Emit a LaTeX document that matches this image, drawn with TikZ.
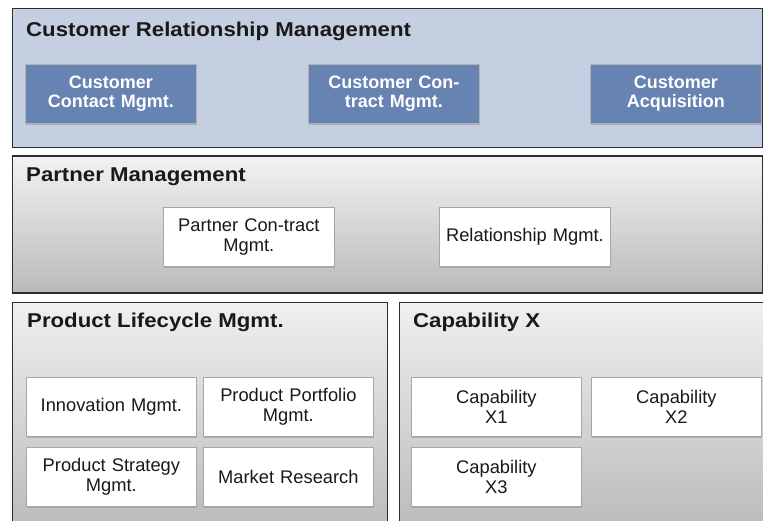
\documentclass[tikz,border=0pt]{standalone}
\usepackage{fontspec}
\setmainfont{Liberation Sans}
\usepackage{tikz}
\usetikzlibrary{positioning, shadows}
\tikzset{>=stealth}
\definecolor{crmfill}{RGB}{196,207,225}
\definecolor{crmblue}{RGB}{102,131,178}
\definecolor{framegray}{RGB}{45,45,45}
\newcommand{\widetitle}[1]{\scalebox{1.11}[1]{#1}}
\tikzset{
    panel/.style={draw=framegray, line width=1.3pt, anchor=north west, inner sep=0pt},
    greypanel/.style={panel, top color=black!5, bottom color=black!27},
    ptitle/.style={anchor=base west, inner sep=0pt, text=black!90, font=\bfseries\fontsize{20}{22}\selectfont},
    capbox/.style={anchor=north west, minimum width=171pt, minimum height=59pt, text width=165pt, align=center, inner sep=0pt,
        fill=white, draw=black!35, line width=0.8pt, text=black!90, font=\fontsize{18.3}{19.3}\selectfont,
        drop shadow={shadow xshift=1pt, shadow yshift=-2pt, opacity=.4}},
    crmbox/.style={capbox, fill=crmblue, draw=black!30, text=white, font=\bfseries\fontsize{18}{19.3}\selectfont}
}
\begin{document}
\begin{tikzpicture}[x=1pt, y=-1pt]
    \useasboundingbox (0,0) rectangle (763,521);
    % panels
    \node[panel, fill=crmfill, minimum width=750pt, minimum height=139pt] (crm) at (12,8) {};
    \node[greypanel, minimum width=750pt, minimum height=137pt] (pm) at (12,155.5) {};
    \node[greypanel, top color=black!6, bottom color=black!30, minimum width=375pt, minimum height=260pt] (plm) at (12,302) {};
    \node[greypanel, top color=black!6, bottom color=black!30, minimum width=364pt, minimum height=260pt] (capx) at (399,302) {};

    \node[ptitle] (crmtitle) at (26,37) {\widetitle{Customer Relationship Management}};
    \node[ptitle] (pmtitle) at (26,182) {\widetitle{Partner Management}};
    \node[ptitle] (plmtitle) at (27,327) {\widetitle{Product Lifecycle Mgmt.}};
    \node[ptitle] (capxtitle) at (413,327) {\widetitle{Capability X}};

    \foreach \x/\n/\t in {25/ccm/{Customer\\Contact Mgmt.}, 308/cctm/{Customer Con-\\tract Mgmt.}, 590/cacq/{Customer\\Acquisition}}
    {
        \node[crmbox] (\n) at (\x,64) {\t};
    }

    \node[capbox] (pcm) at (163,207) {Partner Con-tract\\Mgmt.};
    \node[capbox] (rm) at (439,207) {Relationship Mgmt.};

    \foreach \x/\y/\n/\t in {26/377/inno/{Innovation Mgmt.}, 203/377/ppm/{Product Portfolio\\Mgmt.},
        26/447/psm/{Product Strategy\\Mgmt.}, 203/447/mres/{Market Research},
        411/377/capa/{Capability\\X1}, 591/377/capb/{Capability\\X2}, 411/447/capc/{Capability\\X3}}
    {
        \node[capbox, minimum width=170pt] (\n) at (\x,\y) {\t};
    }
\end{tikzpicture}
\end{document}
